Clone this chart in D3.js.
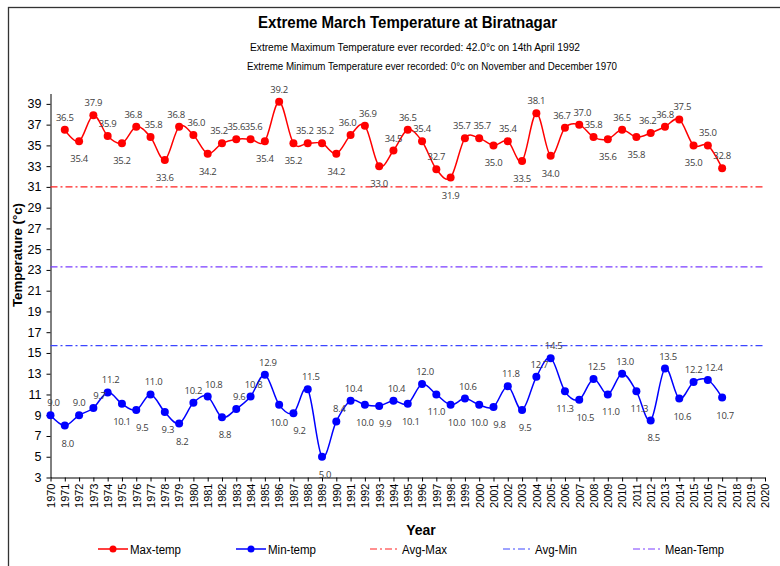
<!DOCTYPE html>
<html>
<head>
<meta charset="utf-8">
<script src="https://cdn.jsdelivr.net/npm/d3@7"></script>
<style>
  body { margin: 0; background: #fff; }
  svg text { font-family: 'Liberation Sans', Arial, sans-serif; }
  .lbl { font-family: 'Open Sans', 'Noto Sans', sans-serif; font-size: 9.5px; fill: #404040; letter-spacing: -0.3px; }
</style>
</head>
<body>
<svg id="chart" width="780" height="566"></svg>
<script>
const years = [1970, 1971, 1972, 1973, 1974, 1975, 1976, 1977, 1978, 1979,
  1980, 1981, 1982, 1983, 1984, 1985, 1986, 1987, 1988, 1989,
  1990, 1991, 1992, 1993, 1994, 1995, 1996, 1997, 1998, 1999,
  2000, 2001, 2002, 2003, 2004, 2005, 2006, 2007, 2008, 2009,
  2010, 2011, 2012, 2013, 2014, 2015, 2016, 2017, 2018, 2019, 2020];

// values from 1970 onwards (no max value for 1970)
const maxTemp = [null, 36.5, 35.4, 37.9, 35.9, 35.2, 36.8, 35.8, 33.6, 36.8,
  36.0, 34.2, 35.2, 35.6, 35.6, 35.4, 39.2, 35.2, 35.2, 35.2,
  34.2, 36.0, 36.9, 33.0, 34.5, 36.5, 35.4, 32.7, 31.9, 35.7,
  35.7, 35.0, 35.4, 33.5, 38.1, 34.0, 36.7, 37.0, 35.8, 35.6,
  36.5, 35.8, 36.2, 36.8, 37.5, 35.0, 35.0, 32.8];
const minTemp = [9.0, 8.0, 9.0, 9.7, 11.2, 10.1, 9.5, 11.0, 9.3, 8.2,
  10.2, 10.8, 8.8, 9.6, 10.8, 12.9, 10.0, 9.2, 11.5, 5.0,
  8.4, 10.4, 10.0, 9.9, 10.4, 10.1, 12.0, 11.0, 10.0, 10.6,
  10.0, 9.8, 11.8, 9.5, 12.7, 14.5, 11.3, 10.5, 12.5, 11.0,
  13.0, 11.3, 8.5, 13.5, 10.6, 12.2, 12.4, 10.7];

const avgMax = 31.0;
const meanTemp = 23.3;
const avgMin = 15.7;
const yTicks = [3, 5, 7, 9, 11, 13, 15, 17, 19, 21, 23, 25, 27, 29, 31, 33, 35, 37, 39];

const svg = d3.select('#chart');

// chart border
svg.append('rect')
  .attr('x', 8.5).attr('y', 7.5)
  .attr('width', 800).attr('height', 600)
  .attr('fill', 'none')
  .attr('stroke', '#333')
  .attr('stroke-width', 1.3);

const x = d3.scalePoint()
  .domain(years)
  .range([50.5, 765]);

const y = d3.scaleLinear()
  .domain([3, 40])
  .range([477.5, 93.5]);

// titles (squeezed a little, the original uses a narrow face)
function narrowText(tx, ty, size, bold, len, str) {
  return svg.append('text')
    .attr('x', tx).attr('y', ty)
    .attr('text-anchor', 'middle')
    .attr('textLength', len)
    .attr('lengthAdjust', 'spacingAndGlyphs')
    .style('font-size', size + 'px')
    .style('font-weight', bold ? 'bold' : 'normal')
    .text(str);
}
narrowText(407.5, 28, 16, true, 299, 'Extreme March Temperature at Biratnagar');
narrowText(415, 51, 11, false, 330, 'Extreme Maximum Temperature ever recorded: 42.0°c on 14th April 1992');
narrowText(432, 70, 11, false, 370, 'Extreme Minimum Temperature ever recorded: 0°c on November and December 1970');

// axes
svg.append('g')
  .attr('transform', 'translate(50.5,0)')
  .call(d3.axisLeft(y).tickValues(yTicks).tickSize(4).tickSizeOuter(0).tickPadding(5))
  .call(g => g.selectAll('text').style('font-size', '12.5px').attr('fill', '#000'))
  .call(g => g.selectAll('line,path').attr('stroke', '#000'));

svg.append('g')
  .attr('transform', 'translate(0,477.5)')
  .call(d3.axisBottom(x).tickSize(4).tickSizeOuter(0))
  .call(g => g.selectAll('line,path').attr('stroke', '#000'))
  .call(g => g.selectAll('text')
    .attr('transform', 'rotate(-90)')
    .attr('x', -6).attr('y', 0).attr('dy', '0.35em')
    .style('text-anchor', 'end')
    .style('font-size', '11px')
    .attr('fill', '#000'));

svg.append('text')
  .attr('transform', 'translate(22,255) rotate(-90)')
  .attr('text-anchor', 'middle')
  .attr('textLength', 104)
  .attr('lengthAdjust', 'spacingAndGlyphs')
  .style('font-size', '13px').style('font-weight', 'bold')
  .text('Temperature (°c)');

svg.append('text')
  .attr('x', 421).attr('y', 535)
  .attr('text-anchor', 'middle')
  .style('font-size', '14px').style('font-weight', 'bold')
  .text('Year');

// reference lines
const refs = [
  { value: avgMax, color: '#ff2020' },
  { value: meanTemp, color: '#7a3cff' },
  { value: avgMin, color: '#3c46ff' }
];
refs.forEach(r => {
  svg.append('line')
    .attr('x1', x(1970)).attr('x2', x(2020))
    .attr('y1', y(r.value)).attr('y2', y(r.value))
    .attr('stroke', r.color)
    .attr('stroke-width', 1.2)
    .attr('stroke-dasharray', '7,3,2,3');
});

// series
const maxPts = years.map((yr, i) => ({ year: yr, v: maxTemp[i] })).filter(d => d.v != null);
const minPts = years.map((yr, i) => ({ year: yr, v: minTemp[i] })).filter(d => d.v != null);

const line = d3.line()
  .x(d => x(d.year))
  .y(d => y(d.v))
  .curve(d3.curveCardinal);

// max labels go below local dips, min labels go below falling points
function maxBelow(d, i, arr) {
  const prev = arr[i - 1], next = arr[i + 1];
  return prev != null && d.v < prev.v && next != null && d.v <= next.v;
}
function minBelow(d, i, arr) {
  const prev = arr[i - 1];
  return prev != null && d.v < prev.v;
}

function drawSeries(pts, color, below, shift) {
  svg.append('path')
    .attr('d', line(pts))
    .attr('fill', 'none')
    .attr('stroke', color)
    .attr('stroke-width', 1.5);

  svg.append('g').selectAll('circle')
    .data(pts)
    .enter()
    .append('circle')
    .attr('cx', d => x(d.year))
    .attr('cy', d => y(d.v))
    .attr('r', 4)
    .attr('fill', color);

  // work out label spots, then nudge neighbours that sit side by side
  const spots = pts.map((d, i) => {
    const b = below(d, i, pts);
    return { text: d.v.toFixed(1), below: b, lx: x(d.year) + shift, ly: y(d.v) + (b ? 21 : -9) };
  });
  for (let i = 1; i < spots.length; i++) {
    const a = spots[i - 1], b = spots[i];
    if (a.below == b.below && Math.abs(a.ly - b.ly) < 11 && b.lx - a.lx < 19) {
      a.lx -= 3;
      b.lx += 3;
    }
  }

  svg.append('g').selectAll('text')
    .data(spots)
    .enter()
    .append('text')
    .attr('class', 'lbl')
    .attr('text-anchor', 'middle')
    .attr('x', d => d.lx)
    .attr('y', d => d.ly)
    .text(d => d.text);
}

drawSeries(maxPts, '#ff0000', maxBelow, 0);
drawSeries(minPts, '#0000ff', minBelow, 3);

// legend
const legend = [
  { name: 'Max-temp', color: '#ff0000', marker: true, x: 98, w: 51 },
  { name: 'Min-temp', color: '#0000ff', marker: true, x: 236, w: 48 },
  { name: 'Avg-Max', color: '#ff2020', marker: false, x: 370, w: 45 },
  { name: 'Avg-Min', color: '#3c46ff', marker: false, x: 503, w: 42 },
  { name: 'Mean-Temp', color: '#7a3cff', marker: false, x: 633, w: 59 }
];
const lg = svg.append('g').attr('transform', 'translate(0,549)');
legend.forEach(l => {
  lg.append('line')
    .attr('x1', l.x).attr('x2', l.x + 30)
    .attr('y1', 0).attr('y2', 0)
    .attr('stroke', l.color)
    .attr('stroke-width', l.marker ? 1.5 : 1)
    .attr('stroke-dasharray', l.marker ? null : '7,3,2,3');
  if (l.marker) {
    lg.append('circle')
      .attr('cx', l.x + 15).attr('cy', 0).attr('r', 3.5)
      .attr('fill', l.color);
  }
  lg.append('text')
    .attr('x', l.x + 32).attr('y', 4.5)
    .attr('textLength', l.w)
    .attr('lengthAdjust', 'spacingAndGlyphs')
    .style('font-size', '12.5px')
    .text(l.name);
});
</script>
</body>
</html>
